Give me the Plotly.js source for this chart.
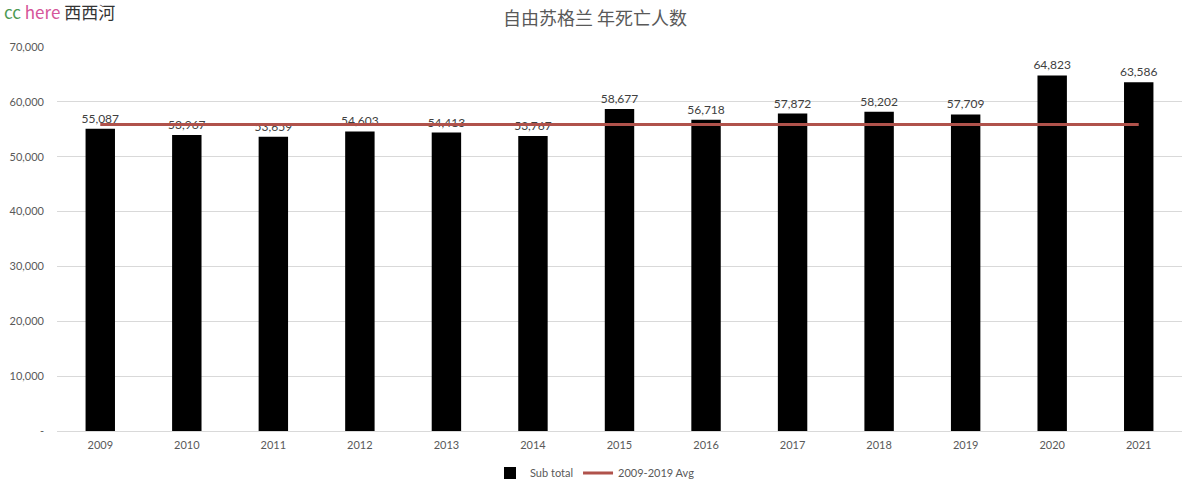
<!DOCTYPE html>
<html>
<head>
<meta charset="utf-8">
<script src="https://cdn.plot.ly/plotly-3.0.1.min.js"></script>
<style>
  body { margin: 0; background: #fff; }
  #chart { width: 1190px; height: 492px; }
</style>
</head>
<body>
<div id="chart"></div>
<script>
const years = ['2009', '2010', '2011', '2012', '2013', '2014', '2015', '2016', '2017', '2018', '2019', '2020', '2021'];
const subTotal = [55087, 53967, 53659, 54603, 54413, 53767, 58677, 56718, 57872, 58202, 57709, 64823, 63586];
const avgValues = [55880, 55880, 55880, 55880, 55880, 55880, 55880, 55880, 55880, 55880, 55880, 55880, 55880];
const yTickVals = [0, 10000, 20000, 30000, 40000, 50000, 60000, 70000];
const yTickText = ['-', '10,000', '20,000', '30,000', '40,000', '50,000', '60,000', '70,000'];

const latin = 'Lato, "Open Sans", sans-serif';
const cjk = '"Noto Sans CJK SC", sans-serif';

const bars = {
    type: 'bar',
    name: 'Sub total',
    x: years,
    y: subTotal,
    width: 0.34,
    marker: { color: '#000000' },
    text: subTotal.map(v => v.toLocaleString('en-US')),
    textposition: 'outside',
    constraintext: 'none',
    textfont: { family: latin, size: 12, color: '#404040' },
    cliponaxis: false
};

const avgLine = {
    type: 'scatter',
    mode: 'lines',
    name: '2009-2019 Avg',
    x: years,
    y: avgValues,
    line: { color: '#b0524b', width: 3 }
};

const layout = {
    width: 1190,
    height: 492,
    margin: { l: 57, r: 8, t: 47, b: 61, autoexpand: false },
    paper_bgcolor: '#ffffff',
    plot_bgcolor: '#ffffff',
    font: { family: latin, size: 11, color: '#595959' },
    title: {
        text: '自由苏格兰 年死亡人数',
        font: { family: cjk, size: 18, color: '#595959' },
        x: 0.5, xanchor: 'center',
        y: 1 - 19 / 492, yanchor: 'middle'
    },
    xaxis: {
        type: 'category',
        showgrid: false,
        showline: true,
        linecolor: '#d9d9d9',
        linewidth: 1,
        ticks: '',
        ticklabelstandoff: 4,
        tickfont: { family: latin, size: 11, color: '#595959' },
        fixedrange: true
    },
    yaxis: {
        range: [0, 70000],
        tickvals: yTickVals,
        ticktext: yTickText,
        showgrid: true,
        gridcolor: '#d9d9d9',
        zeroline: false,
        showline: false,
        ticks: '',
        ticklabelstandoff: 12,
        tickfont: { family: latin, size: 11, color: '#595959' },
        fixedrange: true
    },
    legend: {
        orientation: 'h',
        x: 0.5, xanchor: 'center', xref: 'container',
        y: 1 - 473 / 492, yanchor: 'middle', yref: 'container',
        font: { family: latin, size: 11, color: '#595959' }
    },
    annotations: [{
        xref: 'paper', yref: 'paper',
        x: (2 - 57) / 1125, xanchor: 'left',
        y: 1 + 36 / 384, yanchor: 'middle',
        showarrow: false,
        text: '<span style="color:#4c9a52">cc</span> <span style="color:#d5569a">here</span> <span style="color:#333333">西西河</span>',
        font: { family: cjk, size: 17 }
    }],
    showlegend: true
};

Plotly.newPlot('chart', [bars, avgLine], layout, { displayModeBar: false, staticPlot: true });
</script>
</body>
</html>
